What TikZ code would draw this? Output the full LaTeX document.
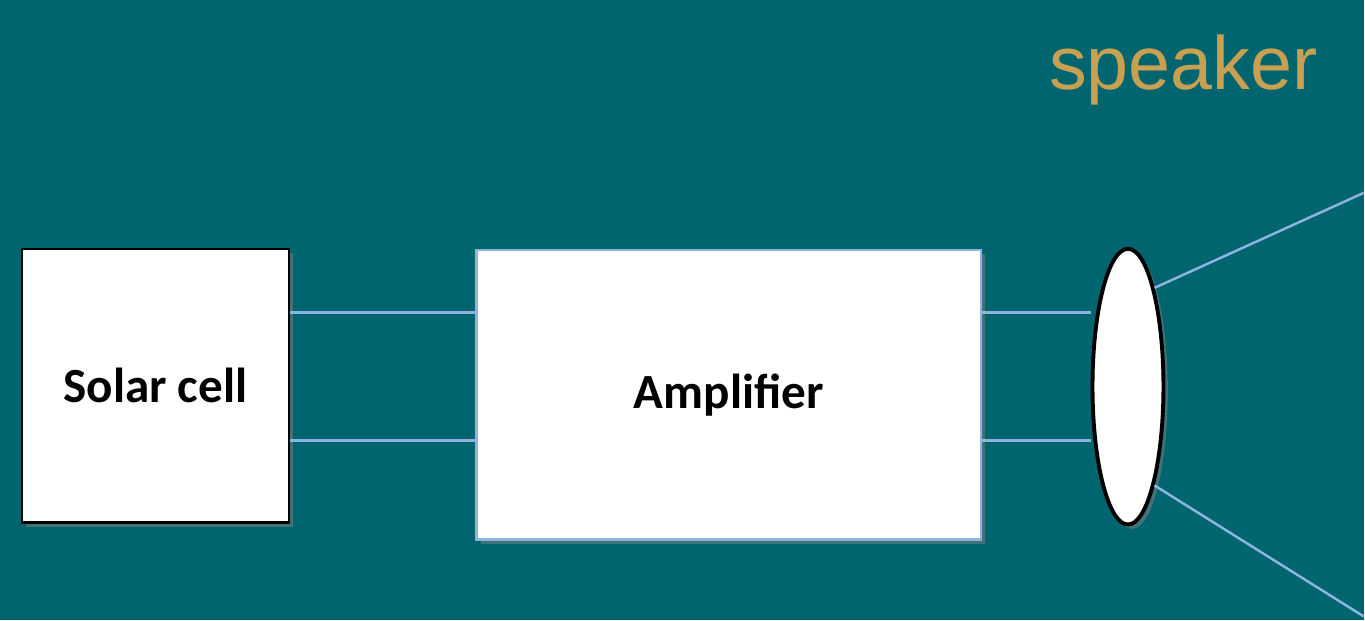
\documentclass[tikz,border=0pt]{standalone}
\usepackage{fontspec}
\newfontfamily\boxfont{Carlito}
\newfontfamily\labelfont{Liberation Sans}
\usetikzlibrary{positioning,shapes.geometric,shadows}
\definecolor{slidebg}{RGB}{0,101,111}
\definecolor{wireblue}{RGB}{141,180,226}
\definecolor{labelgold}{RGB}{200,160,82}

\tikzset{
  block/.style={draw, fill=white, inner sep=0pt,
    font=\boxfont\bfseries\fontsize{28}{34}\selectfont,
    drop shadow={opacity=0.5, shadow xshift=2.5pt, shadow yshift=-2.5pt}},
  wire/.style={draw=wireblue, line width=1.4pt},
}

\begin{document}
\begin{tikzpicture}[x=0.02cm, y=-0.02cm]
% slide background, fixes the page size too
\fill[slidebg] (0,0) rectangle (1365,621);
% the three parts
\node[block, line width=1.3pt, minimum width=5.34cm, minimum height=5.48cm] (solar) at (155.5,386) {Solar cell};
\node[block, draw=wireblue, line width=1.4pt, minimum width=10.1cm, minimum height=5.8cm] (amp) at (729.5,395) {Amplifier};
\node[block, ellipse, line width=2.2pt, minimum width=1.42cm, minimum height=5.52cm] (spk) at (1129,387) {};
\node[font=\labelfont\fontsize{43}{50}\selectfont, text=labelgold, anchor=base] (spklabel) at (1184.5,90) {speaker};
% free ends of the cone
\coordinate (conetop) at (1365,193);
\coordinate (conebot) at (1365,617);
% wires
\draw[wire] (solar.east |- 0,313) -- (amp.west |- 0,313);
\draw[wire] (solar.east |- 0,441) -- (amp.west |- 0,441);
\draw[wire] (amp.east |- 0,313) -- (spk.west |- 0,313);
\draw[wire] (amp.east |- 0,441) -- (spk.west |- 0,441);
\draw[wire] (spk.75) -- (conetop);
\draw[wire] (spk.-75) -- (conebot);
\end{tikzpicture}
\end{document}
